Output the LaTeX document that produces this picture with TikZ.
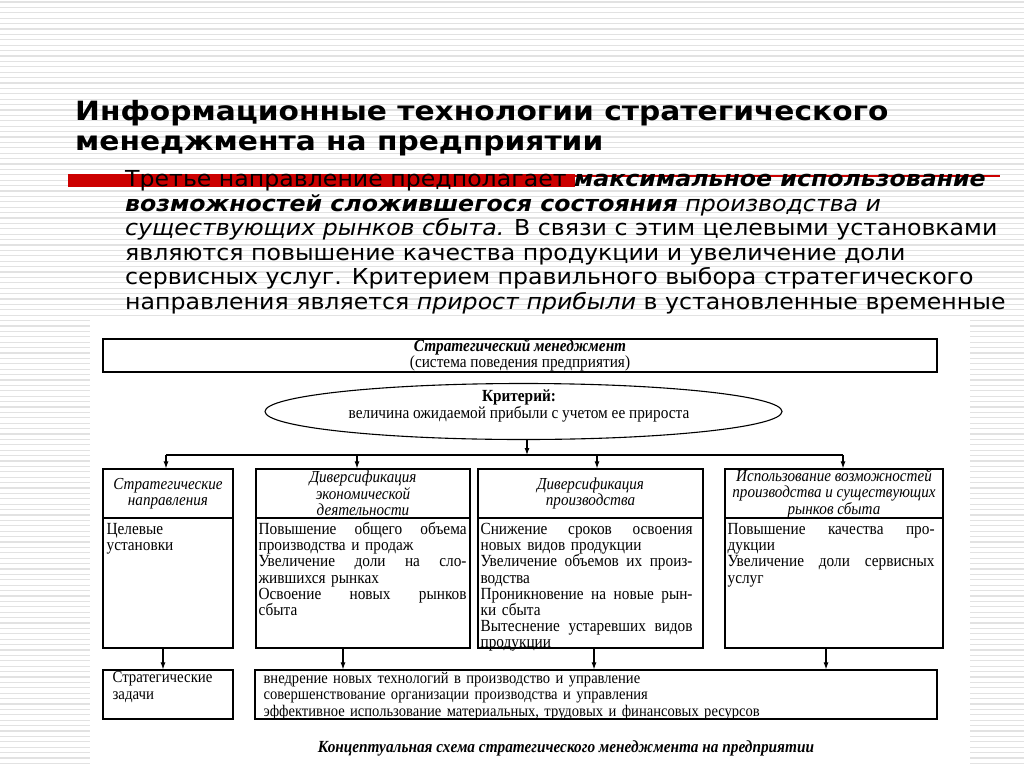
\documentclass[tikz,border=0pt]{standalone}
\usepackage{fontspec}
\setmainfont[FakeStretch=0.9]{Liberation Serif}
\newfontfamily\slidefont[FakeStretch=1.075]{DejaVu Sans}
\newfontfamily\titlefont[FakeStretch=1.12]{DejaVu Sans}
\usetikzlibrary{shapes.geometric,arrows.meta}
\definecolor{SlideRed}{HTML}{CC0000}
\definecolor{StripeGray}{HTML}{E2E2E2}
\newcommand{\jl}[1]{\makebox[\linewidth][s]{\spaceskip=0.25em plus 1fil\relax #1}}

\begin{document}
\begin{tikzpicture}[x=1pt, y=-1pt, every node/.style={inner sep=0pt},
  stripe/.style={StripeGray, line width=1.2pt},
  frame/.style={draw, line width=1.2pt, inner sep=0pt},
  headtext/.style={font=\itshape\fontsize{16.8}{16.5}\selectfont, align=center},
  listtext/.style={font=\fontsize{17}{16.2}\selectfont, align=left, anchor=base west},
  bodyline/.style={font=\slidefont\fontsize{22}{24}\selectfont, anchor=base west},
  titleline/.style={font=\titlefont\bfseries\fontsize{26.5}{30}\selectfont, anchor=base west},
  link/.style={line width=1.1pt, -{Latex[length=7pt,width=5pt]}}]
  \useasboundingbox (0,0) rectangle (1024,768);
  % slide background
  \fill[white] (0,0) rectangle (1024,768);
  \foreach \sy in {2,7.4,...,768}
    \draw[stripe] (0,\sy) -- (1024,\sy);

  % title and text of the slide
  \node[titleline] (title1) at (75,120) {Информационные технологии стратегического};
  \node[titleline] (title2) at (75,150.5) {менеджмента на предприятии};
  \fill[SlideRed] (68,174) rectangle (575,187);
  \draw[SlideRed, line width=2pt] (575,175.5) -- (1000,175.5);
  \node[bodyline] (line1) at (125,186.5) {Третье направление предполагает \textbf{\textit{максимальное использование}}};
  \node[bodyline] (line2) at (125,211) {\textbf{\textit{возможностей сложившегося состояния}} \textit{производства и}};
  \node[bodyline] (line3) at (125,235.5) {\textit{существующих рынков сбыта.} В связи с этим целевыми установками};
  \node[bodyline] (line4) at (125,260) {являются повышение качества продукции и увеличение доли};
  \node[bodyline] (line5) at (125,284.5) {сервисных услуг. Критерием правильного выбора стратегического};
  \node[bodyline] (line6) at (125,309) {направления является \textit{прирост прибыли} в установленные временные};

  % scheme
  \fill[white] (90,320) rectangle (970,768);
  \node[frame, minimum width=834, minimum height=33, align=center, font=\fontsize{17}{16}\selectfont] (mgmt) at (520,355.5)
    {\textbf{\textit{Стратегический менеджмент}}\\(система поведения предприятия)};
  \node[draw, ellipse, line width=1.1pt, minimum width=517, minimum height=56] (crit) at (523.5,411.5) {};
  \node[align=center, font=\fontsize{17}{15}\selectfont] (crittext) at (519,406)
    {\textbf{Критерий:}\\величина ожидаемой прибыли с учетом ее прироста};
  \coordinate (split) at (527,455);

  \node[frame, minimum width=130, minimum height=49, headtext] (c1h) at (168,493.5) {Стратегические\\направления};
  \node[frame, minimum width=214, minimum height=49, headtext] (c2h) at (363,493.5) {Диверсификация\\экономической\\деятельности};
  \node[frame, minimum width=225, minimum height=49, headtext] (c3h) at (590.5,493.5) {Диверсификация\\производства};
  \node[frame, minimum width=218, minimum height=49, headtext] (c4h) at (834,493.5) {Использование возможностей\\производства и существующих\\рынков сбыта};
  \node[frame, minimum width=130, minimum height=130] (c1b) at (168,583) {};
  \node[frame, minimum width=214, minimum height=130] (c2b) at (363,583) {};
  \node[frame, minimum width=225, minimum height=130] (c3b) at (590.5,583) {};
  \node[frame, minimum width=218, minimum height=130] (c4b) at (834,583) {};

  \node[listtext, text width=115] (c1t) at ([xshift=4pt, yshift=-17pt]c1b.north west) {Целевые\\установки};
  \node[listtext, text width=208] (c2t) at ([xshift=3pt, yshift=-17pt]c2b.north west)
    {\jl{Повышение общего объема}\\производства и продаж\\\jl{Увеличение доли на сло-}\\жившихся рынках\\\jl{Освоение новых рынков}\\сбыта};
  \node[listtext, text width=212] (c3t) at ([xshift=3pt, yshift=-17pt]c3b.north west)
    {\jl{Снижение сроков освоения}\\новых видов продукции\\\jl{Увеличение объемов их произ-}\\водства\\\jl{Проникновение на новые рын-}\\ки сбыта\\\jl{Вытеснение устаревших видов}\\продукции};
  \node[listtext, text width=207] (c4t) at ([xshift=3pt, yshift=-17pt]c4b.north west)
    {\jl{Повышение качества про-}\\дукции\\\jl{Увеличение доли сервисных}\\услуг};

  \node[frame, minimum width=130, minimum height=49] (tasks) at (168,694.5) {};
  \node[frame, minimum width=682, minimum height=49] (jobs) at (596,694.5) {};
  \node[listtext, font=\fontsize{16.5}{17}\selectfont, text width=115] (taskst) at ([xshift=10pt, yshift=-13pt]tasks.north west) {Стратегические\\задачи};
  \node[listtext, font=\fontsize{16.2}{16.5}\selectfont, text width=660] (jobst) at ([xshift=9pt, yshift=-14pt]jobs.north west)
    {внедрение новых технологий в производство и управление\\совершенствование организации производства и управления\\эффективное использование материальных, трудовых и финансовых ресурсов};

  \node[font=\bfseries\itshape\fontsize{17}{17}\selectfont] (caption) at (566,748) {Концептуальная схема стратегического менеджмента на предприятии};

  % connectors
  \draw[link] (crit.south -| split) -- (split);
  \draw[line width=1.1pt] ([xshift=-2pt]c1h.north |- split) -- ([xshift=9pt]c4h.north |- split);
  \foreach \n/\dx in {c1h/-2, c2h/-6, c3h/6.5, c4h/9}
    \draw[link] ([xshift=\dx pt]\n.north |- split) -- ([xshift=\dx pt]\n.north);
  \foreach \n/\m/\dx in {c1b/tasks/-5, c2b/jobs/-20, c3b/jobs/3.5, c4b/jobs/-8}
    \draw[link] ([xshift=\dx pt]\n.south) -- ([xshift=\dx pt]\n.south |- \m.north);
\end{tikzpicture}
\end{document}
